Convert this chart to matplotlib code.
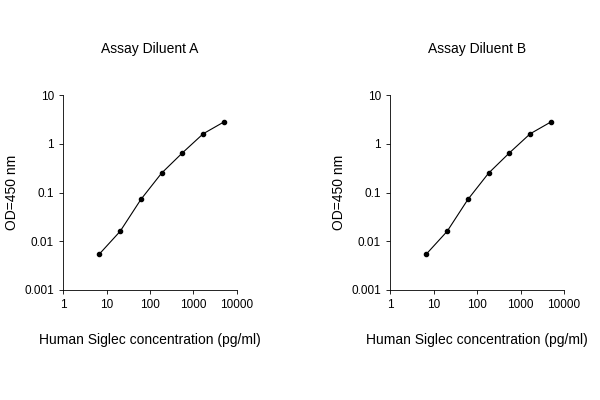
import matplotlib; matplotlib.use("Agg")
import matplotlib.pyplot as plt

titles = ["Assay Diluent A", "Assay Diluent B"]
conc = [6.9, 20.6, 61.7, 185, 556, 1667, 5000]
od_a = [0.0055, 0.016, 0.072, 0.25, 0.65, 1.6, 2.8]
od_b = [0.0055, 0.016, 0.072, 0.25, 0.65, 1.6, 2.8]
xticks = [1, 10, 100, 1000, 10000]
yticks = [0.001, 0.01, 0.1, 1, 10]

fig = plt.figure(figsize=(6, 4), dpi=100)
plt.rcParams["font.family"] = "Liberation Sans"
for i, (t, od) in enumerate(zip(titles, [od_a, od_b])):
    ax = fig.add_axes([0.105 + i * 0.545, 0.275, 0.29, 0.4875])
    ax.plot(conc, od, color="black", lw=0.8, marker="o", ms=3)
    ax.set_xscale("log"); ax.set_yscale("log")
    ax.set_xlim(1, 10000); ax.set_ylim(0.001, 10)
    ax.set_xticks(xticks); ax.set_xticklabels([str(v) for v in xticks])
    ax.set_yticks(yticks); ax.set_yticklabels(["0.001", "0.01", "0.1", "1", "10"])
    ax.minorticks_off()
    ax.tick_params(labelsize=8.5, length=3, width=0.6)
    for s in ["top", "right"]:
        ax.spines[s].set_visible(False)
    for s in ["left", "bottom"]:
        ax.spines[s].set_linewidth(0.6)
    ax.set_title(t, fontsize=10, pad=30)
    ax.set_ylabel("OD=450 nm", fontsize=10)
    ax.set_xlabel("Human Siglec concentration (pg/ml)", fontsize=10, labelpad=16)

fig.savefig("out.png", dpi=100)
